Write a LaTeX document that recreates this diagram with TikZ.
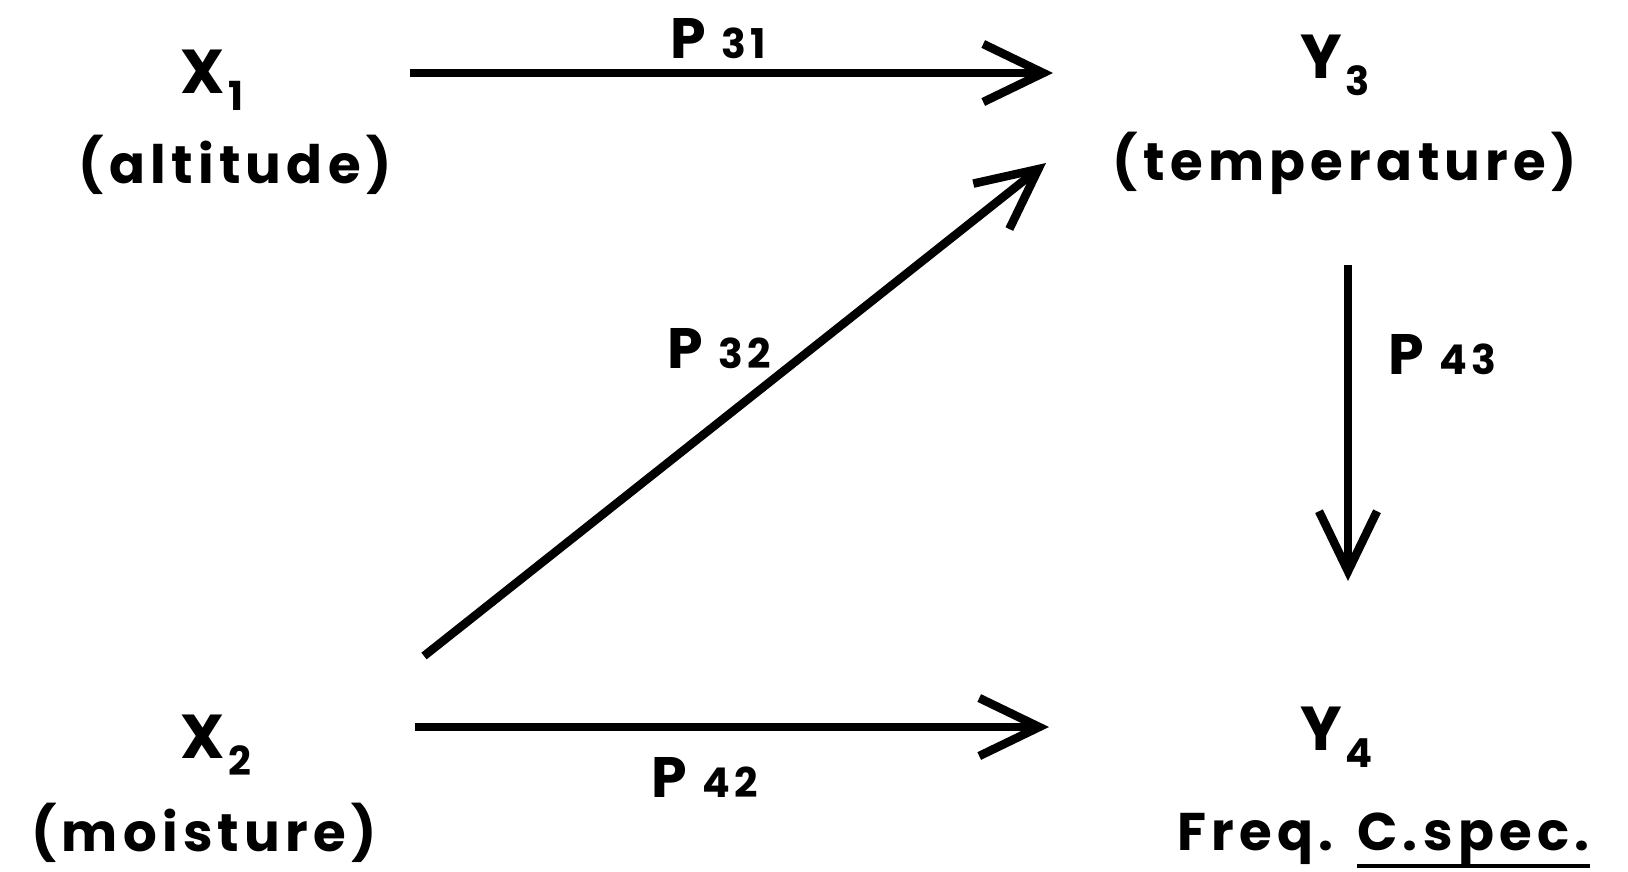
\documentclass[tikz,border=0pt]{standalone}
\usepackage{fontspec}
\setmainfont{Poppins}[LetterSpace=6]
\newfontfamily\labfont{Poppins}[LetterSpace=10]
\usetikzlibrary{arrows.meta}
\newcommand\varlab[2]{{\fontsize{62}{62}\selectfont #1}\hspace{4pt}\raisebox{-17pt}{\fontsize{40}{40}\selectfont #2}}
\newcommand\plab[1]{{\fontsize{57}{57}\selectfont P}\hspace{16pt}{\fontsize{41}{41}\selectfont\labfont\bfseries #1}}
\tikzset{
  lab/.style={font=\fontsize{53}{53}\selectfont\labfont\bfseries, inner sep=0pt},
  vlab/.style={font=\bfseries, inner sep=0pt, anchor=base west},
  arr/.style={line width=8.5pt, -{Straight Barb[length=60pt,width=58pt,line width=8.5pt]}},
}
\begin{document}
\begin{tikzpicture}[x=1pt,y=-1pt]
\useasboundingbox (0,0) rectangle (1628,871);
% variables
\node[vlab] (X1) at (180,93) {\varlab{X}{1}};
\node[lab, anchor=base] (alt) at (235,183) {(altitude)};
\node[vlab] (Y3) at (1300,78) {\varlab{Y}{3}};
\node[lab, anchor=base] (temp) at (1345,180) {(temperature)};
\node[vlab] (X2) at (180,758) {\varlab{X}{2}};
\node[lab, anchor=base] (moist) at (204,851) {(moisture)};
\node[vlab] (Y4) at (1300,750) {\varlab{Y}{4}};
\node[lab, anchor=base east] (freq) at (1334,850) {Freq.};
\node[lab, anchor=base west] (cspec) at (1357,850) {C.spec.};
\draw[line width=4.5pt] ([yshift=-16pt]cspec.base west) -- ([yshift=-16pt]cspec.base east);
% path labels
\node[vlab] (p31) at (670,58) {\plab{31}};
\node[vlab] (p32) at (667,368) {\plab{32}};
\node[vlab] (p43) at (1388,374) {\plab{43}};
\node[vlab] (p42) at (651,797) {\plab{42}};
% arrow end points
\coordinate (a1s) at (410,73);
\coordinate (a1e) at (1053,73);
\coordinate (a2s) at (424,656);
\coordinate (a2e) at (1046,163);
\coordinate (a3s) at (1348,265);
\coordinate (a3e) at (1348,581);
\coordinate (a4s) at (415,727);
\coordinate (a4e) at (1049,727);
\draw[arr] (a1s) -- (a1e);
\draw[arr] (a2s) -- (a2e);
\draw[arr] (a3s) -- (a3e);
\draw[arr] (a4s) -- (a4e);
\end{tikzpicture}
\end{document}
